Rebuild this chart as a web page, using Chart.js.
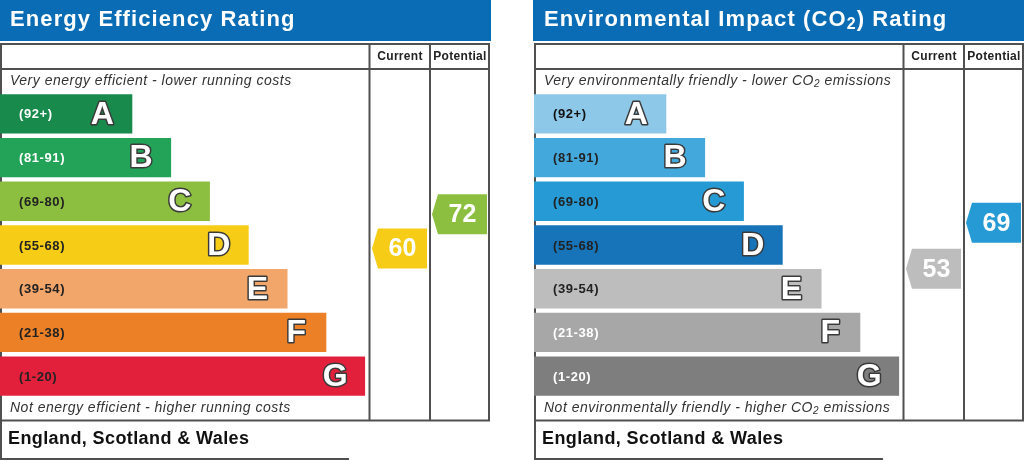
<!DOCTYPE html>
<html>
<head>
<meta charset="utf-8">
<script src="https://cdn.jsdelivr.net/npm/chart.js@4.4.1/dist/chart.umd.min.js"></script>
<style>
  html, body { margin: 0; padding: 0; background: #fff; }
  #wrap { position: relative; width: 1024px; height: 460px; overflow: hidden; }
  canvas { position: absolute; top: 0; }
</style>
</head>
<body>
<div id="wrap">
  <canvas id="energy" width="491" height="460" style="left:0"></canvas>
  <canvas id="co2" width="491" height="460" style="left:533px"></canvas>
</div>
<script>
// bands and their score ranges
const bands = ['A', 'B', 'C', 'D', 'E', 'F', 'G'];
const bandRanges = ['(92+)', '(81-91)', '(69-80)', '(55-68)', '(39-54)', '(21-38)', '(1-20)'];
const bandMins = [92, 81, 69, 55, 39, 21, 1];
const bandSteps = [1, 2, 3, 4, 5, 6, 7];

const ratingColumns = ['Current', 'Potential'];
const energyRatings = [60, 72];
const co2Ratings = [53, 69];

const energyColors = ['#178a4c', '#22a358', '#8cbf40', '#f6cc17', '#f3a66a', '#ec8026', '#e2203c'];
const co2Colors = ['#8ec8e8', '#43a8dc', '#269ad4', '#1874b9', '#bdbdbd', '#a7a7a7', '#7e7e7e'];

const FONT = "'Liberation Sans', Arial, sans-serif";
const STEP_PX = 38.8;   // width of one band step
const X_MIN = -2.41;

function bandIndex(v) {
  for (let i = 0; i < bandMins.length; i++) if (v >= bandMins[i]) return i;
  return bandMins.length - 1;
}

// draws text, rendering "₂" as a smaller lowered 2
function drawSub(ctx, text, x, y, size, style, spacing) {
  const parts = text.split('₂');
  let cx = x;
  ctx.letterSpacing = spacing + 'px';
  parts.forEach((p, i) => {
    ctx.font = style + ' ' + size + 'px ' + FONT;
    ctx.fillText(p, cx, y);
    cx += ctx.measureText(p).width;
    if (i < parts.length - 1) {
      ctx.font = style + ' ' + Math.round(size * 0.72) + 'px ' + FONT;
      ctx.fillText('2', cx, y + size * 0.22);
      cx += ctx.measureText('2').width;
    }
  });
  ctx.letterSpacing = '0px';
}

function drawArrow(ctx, xl, xr, yc, h, color, text) {
  ctx.beginPath();
  ctx.moveTo(xl + 6, yc - h / 2);
  ctx.lineTo(xr, yc - h / 2);
  ctx.lineTo(xr, yc + h / 2);
  ctx.lineTo(xl + 6, yc + h / 2);
  ctx.lineTo(xl, yc);
  ctx.closePath();
  ctx.fillStyle = color;
  ctx.fill();
  ctx.fillStyle = '#fff';
  ctx.font = 'bold 25px ' + FONT;
  ctx.textAlign = 'center';
  ctx.textBaseline = 'middle';
  ctx.fillText(text, (xl + 6 + xr) / 2, yc + 1);
}

const epcFrame = {
  id: 'epcFrame',
  beforeDatasetsDraw(chart, args, o) {
    const ctx = chart.ctx;
    const L = o.x0;
    ctx.save();
    // header band
    ctx.fillStyle = '#0a6cb4';
    ctx.fillRect(0, 0, 491, 41);
    ctx.fillStyle = '#fff';
    ctx.textAlign = 'left';
    ctx.textBaseline = 'middle';
    drawSub(ctx, o.title, L + 10, 20, 22, 'bold', 1.1);

    // table
    ctx.strokeStyle = '#505050';
    ctx.lineWidth = 2;
    ctx.strokeRect(L + 1, 44, 488, 376.5);
    ctx.beginPath();
    ctx.moveTo(L + 1, 69); ctx.lineTo(L + 489, 69);
    ctx.moveTo(L + 369.5, 44); ctx.lineTo(L + 369.5, 420.5);
    ctx.moveTo(L + 430, 44); ctx.lineTo(L + 430, 420.5);
    ctx.stroke();

    ctx.fillStyle = '#222';
    ctx.font = 'bold 12px ' + FONT;
    ctx.letterSpacing = '0.3px';
    ctx.textAlign = 'center';
    ctx.fillText(ratingColumns[0], L + 400, 57);
    ctx.fillText(ratingColumns[1], L + 460, 57);
    ctx.letterSpacing = '0px';

    ctx.fillStyle = '#333';
    ctx.textAlign = 'left';
    drawSub(ctx, o.topNote, L + 10, 81, 14, 'italic', 0.5);
    drawSub(ctx, o.bottomNote, L + 10, 408, 14, 'italic', 0.5);

    // bottom country box
    ctx.beginPath();
    ctx.moveTo(L + 1, 420); ctx.lineTo(L + 1, 459);
    ctx.lineTo(L + 349, 459);
    ctx.stroke();
    ctx.fillStyle = '#111';
    ctx.font = 'bold 18px ' + FONT;
    ctx.letterSpacing = '0.4px';
    ctx.fillText('England, Scotland & Wales', L + 8, 439);
    ctx.letterSpacing = '0px';
    ctx.restore();
  },
  afterDatasetsDraw(chart, args, o) {
    const ctx = chart.ctx;
    const L = o.x0;
    const meta = chart.getDatasetMeta(0);
    ctx.save();
    meta.data.forEach((bar, i) => {
      ctx.textBaseline = 'middle';
      ctx.textAlign = 'left';
      ctx.font = 'bold 13px ' + FONT;
      ctx.letterSpacing = '0.6px';
      ctx.fillStyle = o.labelColors[i];
      ctx.fillText(bandRanges[i], L + 19, bar.y + 1);
      ctx.letterSpacing = '0px';

      ctx.textAlign = 'center';
      ctx.font = 'bold 32px ' + FONT;
      ctx.lineWidth = 3;
      ctx.lineJoin = 'round';
      ctx.strokeStyle = '#3a3a3a';
      ctx.strokeText(bands[i], bar.x - 30, bar.y + 1);
      ctx.fillStyle = '#fff';
      ctx.fillText(bands[i], bar.x - 30, bar.y + 1);
    });

    const v = chart.scales.v;
    const cols = [L + 370, L + 430];
    o.ratings.forEach((r, i) => {
      const yc = v.getPixelForValue(r);
      drawArrow(ctx, cols[i] + 2, cols[i] + 57, yc, 40, o.colors[bandIndex(r)], String(r));
    });
    ctx.restore();
  }
};

function makeChart(id, x0, colors, labelColors, ratings, title, topNote, bottomNote) {
  return new Chart(document.getElementById(id), {
    type: 'bar',
    data: {
      labels: bands,
      datasets: [{
        data: bandSteps,
        backgroundColor: colors,
        base: X_MIN,
        barPercentage: 0.9,
        categoryPercentage: 1.0,
        borderWidth: 0
      }]
    },
    options: {
      indexAxis: 'y',
      responsive: false,
      animation: false,
      events: [],
      layout: { padding: { top: 92, bottom: 62, left: x0, right: 0 } },
      scales: {
        x: { type: 'linear', min: X_MIN, max: X_MIN + (491 - x0) / STEP_PX, display: false },
        y: { display: false },
        v: { type: 'linear', axis: 'y', position: 'right', min: 12.8, max: 109.7, display: false }
      },
      plugins: {
        legend: { display: false },
        tooltip: { enabled: false },
        epcFrame: { x0, colors, labelColors, ratings, title, topNote, bottomNote }
      }
    },
    plugins: [epcFrame]
  });
}

makeChart('energy', 0, energyColors,
  ['#fff', '#fff', '#222', '#222', '#222', '#222', '#222'],
  energyRatings, 'Energy Efficiency Rating',
  'Very energy efficient - lower running costs',
  'Not energy efficient - higher running costs');

makeChart('co2', 1, co2Colors,
  ['#111', '#222', '#222', '#222', '#222', '#fff', '#fff'],
  co2Ratings, 'Environmental Impact (CO₂) Rating',
  'Very environmentally friendly - lower CO₂ emissions',
  'Not environmentally friendly - higher CO₂ emissions');
</script>
</body>
</html>
